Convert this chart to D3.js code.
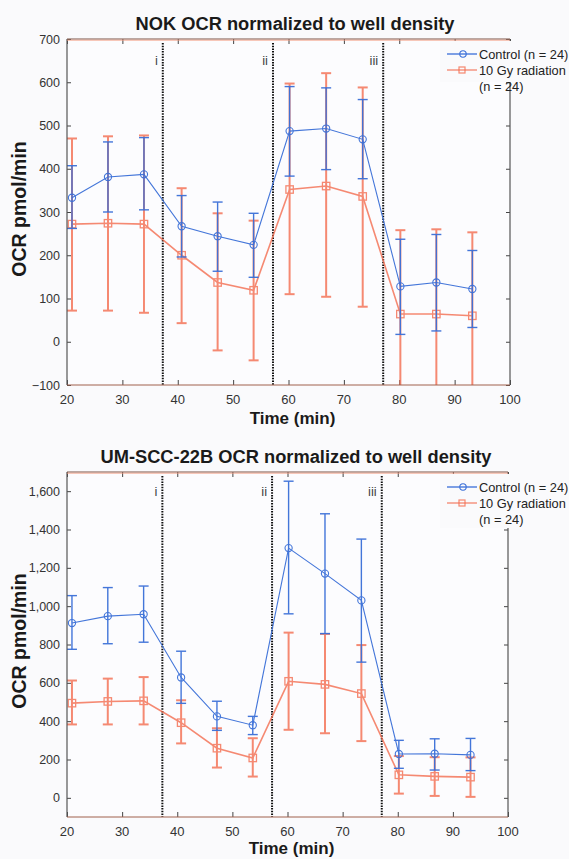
<!DOCTYPE html>
<html>
<head>
<meta charset="utf-8">
<script src="https://cdn.jsdelivr.net/npm/d3@7"></script>
<style>
  body { margin: 0; background: #fafafc; }
  svg { display: block; font-family: Arial, 'Liberation Sans', Helvetica, sans-serif; }
</style>
</head>
<body>
<div id="chart"></div>
<script>
// measurement times (min)
const times = [20.9, 27.4, 33.9, 40.7, 47.2, 53.7, 60.2, 66.8, 73.4, 80.2, 86.7, 93.2]
const injections = [37.3, 57.2, 77.1]
const injectionLabels = ['i', 'ii', 'iii']
const seriesNames = ['Control (n = 24)', '10 Gy radiation']

// NOK
const nokControl = [333, 381, 387, 267, 244, 224, 487, 493, 468, 128, 137, 122]
const nokControlLo = [262, 300, 305, 196, 163, 149, 383, 398, 377, 17, 25, 33]
const nokControlHi = [407, 462, 472, 338, 323, 297, 590, 587, 560, 237, 248, 211]
const nokRad = [272, 274, 272, 200, 137, 119, 352, 360, 336, 64, 64, 60]
const nokRadLo = [72, 72, 67, 43, -20, -43, 110, 104, 81, -130, -132, -133]
const nokRadHi = [470, 475, 477, 355, 297, 280, 597, 621, 588, 258, 260, 253]

// UM-SCC-22B
const umControl = [912, 948, 958, 628, 425, 379, 1303, 1170, 1030, 229, 230, 224]
const umControlLo = [775, 804, 812, 493, 352, 330, 960, 857, 708, 154, 145, 142]
const umControlHi = [1055, 1097, 1105, 765, 504, 425, 1652, 1482, 1350, 300, 308, 310]
const umRad = [494, 503, 506, 392, 259, 208, 608, 592, 544, 120, 112, 108]
const umRadLo = [383, 383, 383, 284, 158, 111, 355, 337, 296, 22, 10, 5]
const umRadHi = [612, 622, 630, 509, 363, 311, 862, 855, 797, 218, 212, 211]

const nokTicks = [-100, 0, 100, 200, 300, 400, 500, 600, 700]
const umTicks = [0, 200, 400, 600, 800, 1000, 1200, 1400, 1600]
const xTicks = [20, 30, 40, 50, 60, 70, 80, 90, 100]

const blue = '#3a6fd8'
const orange = '#f46a4c'

const W = 569, H = 859
const svg = d3.select('#chart').append('svg').attr('width', W).attr('height', H)

function drawChart(cfg) {
  const x = d3.scaleLinear().domain([20, 100]).range([67, cfg.right])
  const y = d3.scaleLinear().domain(cfg.yDomain).range([cfg.bottom, cfg.top])
  const g = svg.append('g')
  const clipId = 'clip' + cfg.id

  g.append('clipPath').attr('id', clipId)
    .append('rect')
    .attr('x', x(20)).attr('y', y.range()[1])
    .attr('width', x(100) - x(20)).attr('height', y.range()[0] - y.range()[1])

  g.append('rect')
    .attr('x', x(20)).attr('y', cfg.top)
    .attr('width', x(100) - x(20)).attr('height', cfg.bottom - cfg.top)
    .attr('fill', '#fcfcfe')

  // title
  g.append('text')
    .attr('x', cfg.titleX).attr('y', cfg.titleY)
    .attr('text-anchor', 'middle')
    .style('font-size', '18.3px').style('font-weight', 'bold').style('fill', '#1a1a1a')
    .text(cfg.title)

  // axes
  const fmt = d => (d < 0 ? '\u2212' + Math.abs(d) : d3.format(',')(d))
  const left = g.append('g').attr('transform', `translate(${x(20)},0)`)
    .call(d3.axisRight(y).tickValues(cfg.yTicks).tickSize(4).tickFormat(''))
  const right = g.append('g').attr('transform', `translate(${x(100)},0)`)
    .call(d3.axisLeft(y).tickValues(cfg.yTicks).tickSize(4).tickFormat(''))
  const bottom = g.append('g').attr('transform', `translate(0,${cfg.bottom})`)
    .call(d3.axisTop(x).tickValues(xTicks).tickSize(5).tickFormat(''))
  const top = g.append('g').attr('transform', `translate(0,${cfg.top})`)
    .call(d3.axisBottom(x).tickValues(xTicks).tickSize(5).tickFormat(''))
  ;[left, right, bottom, top].forEach(a => {
    a.select('.domain').remove()
    a.selectAll('line').attr('stroke', '#444')
  })

  g.selectAll('.ylab')
    .data(cfg.yTicks)
    .join('text')
    .attr('x', x(20) - 7).attr('y', d => y(d) + 4.5)
    .attr('text-anchor', 'end')
    .style('font-size', '12.5px').style('fill', '#333')
    .text(fmt)

  g.selectAll('.xlab')
    .data(xTicks)
    .join('text')
    .attr('x', d => x(d)).attr('y', cfg.bottom + 19)
    .attr('text-anchor', 'middle')
    .style('font-size', '13px').style('fill', '#333')
    .text(d => d)

  g.append('text')
    .attr('x', (x(20) + x(100)) / 2 + 4).attr('y', cfg.bottom + cfg.xLabelDy)
    .attr('text-anchor', 'middle')
    .style('font-size', '17px').style('font-weight', 'bold').style('fill', '#1a1a1a')
    .text('Time (min)')

  g.append('text')
    .attr('transform', `translate(26,${cfg.yLabelY}) rotate(-90)`)
    .attr('text-anchor', 'middle')
    .style('font-size', '19.5px').style('font-weight', 'bold').style('fill', '#1a1a1a')
    .text('OCR pmol/min')

  // injection lines
  g.selectAll('.inj')
    .data(injections)
    .join('line')
    .attr('x1', d => x(d)).attr('x2', d => x(d))
    .attr('y1', cfg.top + 4).attr('y2', cfg.bottom)
    .attr('stroke', '#111').attr('stroke-width', 2).attr('stroke-dasharray', '1.5,1.2')

  g.selectAll('.injlab')
    .data(injections)
    .join('text')
    .attr('x', d => x(d) - 5).attr('y', cfg.top + cfg.injY)
    .attr('text-anchor', 'end')
    .style('font-size', '13px').style('fill', '#444')
    .text((d, i) => injectionLabels[i])

  const plot = g.append('g').attr('clip-path', `url(#${clipId})`)

  function series(mean, lo, hi, color, marker, lineW, errW, opacity) {
    const s = plot.append('g').attr('opacity', opacity)
    const pts = times.map((t, i) => ({ t, m: mean[i], lo: lo[i], hi: hi[i] }))
    s.selectAll('.err')
      .data(pts)
      .join('line')
      .attr('x1', d => x(d.t)).attr('x2', d => x(d.t))
      .attr('y1', d => y(d.lo)).attr('y2', d => y(d.hi))
      .attr('stroke', color).attr('stroke-width', errW)
    s.selectAll('.caphi')
      .data(pts)
      .join('line')
      .attr('x1', d => x(d.t) - 5).attr('x2', d => x(d.t) + 5)
      .attr('y1', d => y(d.hi)).attr('y2', d => y(d.hi))
      .attr('stroke', color).attr('stroke-width', errW)
    s.selectAll('.caplo')
      .data(pts)
      .join('line')
      .attr('x1', d => x(d.t) - 5).attr('x2', d => x(d.t) + 5)
      .attr('y1', d => y(d.lo)).attr('y2', d => y(d.lo))
      .attr('stroke', color).attr('stroke-width', errW)
    s.append('path')
      .datum(pts)
      .attr('d', d3.line().x(d => x(d.t)).y(d => y(d.m)))
      .attr('fill', 'none').attr('stroke', color).attr('stroke-width', lineW)
    if (marker === 'circle') {
      s.selectAll('.mk')
        .data(pts)
        .join('circle')
        .attr('cx', d => x(d.t)).attr('cy', d => y(d.m)).attr('r', 3.6)
        .attr('fill', 'none').attr('stroke', color).attr('stroke-width', 1.1)
    } else {
      s.selectAll('.mk')
        .data(pts)
        .join('rect')
        .attr('x', d => x(d.t) - 3.7).attr('y', d => y(d.m) - 3.7)
        .attr('width', 7.4).attr('height', 7.4)
        .attr('fill', 'none').attr('stroke', color).attr('stroke-width', 1.3)
    }
  }

  series(cfg.rad, cfg.radLo, cfg.radHi, orange, 'square', 1.6, 2, 0.78)
  series(cfg.ctrl, cfg.ctrlLo, cfg.ctrlHi, blue, 'circle', 1.1, 1.4, 0.95)

  // frame
  g.append('line').attr('x1', x(20)).attr('x2', x(20)).attr('y1', cfg.top).attr('y2', cfg.bottom)
    .attr('stroke', '#555').attr('stroke-width', 1.2)
  g.append('line').attr('x1', x(100)).attr('x2', x(100)).attr('y1', cfg.top).attr('y2', cfg.bottom)
    .attr('stroke', '#555').attr('stroke-width', 1.2)
  g.append('line').attr('x1', x(20)).attr('x2', x(100)).attr('y1', cfg.top).attr('y2', cfg.top)
    .attr('stroke', '#7a5548').attr('stroke-width', 1.2)
  g.append('line').attr('x1', x(20)).attr('x2', x(100)).attr('y1', cfg.top + 1.2).attr('y2', cfg.top + 1.2)
    .attr('stroke', '#f29a80').attr('stroke-width', 0.8)
  g.append('line').attr('x1', x(20)).attr('x2', x(100)).attr('y1', cfg.bottom).attr('y2', cfg.bottom)
    .attr('stroke', '#a0604c').attr('stroke-width', 1.2)

  // legend
  const lg = g.append('g')
  lg.append('rect')
    .attr('x', 440).attr('y', cfg.top + 2)
    .attr('width', W - 440).attr('height', cfg.legendH)
    .attr('fill', '#fafafc')
  const rows = [
    { name: seriesNames[0], color: blue, marker: 'circle', op: 1 },
    { name: seriesNames[1], color: orange, marker: 'square', op: 0.8 }
  ]
  rows.forEach((r, i) => {
    const ry = cfg.top + 15 + i * 16
    const row = lg.append('g')
    row.append('line').attr('x1', 447).attr('x2', 477).attr('y1', ry).attr('y2', ry)
      .attr('stroke', r.color).attr('stroke-width', 1.3).attr('opacity', r.op)
    if (r.marker === 'circle') {
      row.append('circle').attr('cx', 463).attr('cy', ry).attr('r', 3.2)
        .attr('fill', 'none').attr('stroke', r.color).attr('stroke-width', 1.1)
    } else {
      row.append('rect').attr('x', 459).attr('y', ry - 3).attr('width', 6).attr('height', 6)
        .attr('fill', 'none').attr('stroke', r.color).attr('stroke-width', 1.2).attr('opacity', r.op)
    }
    row.append('text').attr('x', 479).attr('y', ry + 4.5)
      .style('font-size', '12.8px').style('fill', '#222')
      .text(r.name)
  })
  lg.append('text').attr('x', 479).attr('y', cfg.top + 47 + 4.5)
    .style('font-size', '12.8px').style('fill', '#222')
    .text('(n = 24)')
}

drawChart({
  id: 'nok',
  title: 'NOK OCR normalized to well density',
  titleX: 295, titleY: 30,
  top: 39, bottom: 385, right: 510,
  yDomain: [-100, 700], yTicks: nokTicks,
  yLabelY: 209, injY: 26, legendH: 41, xLabelDy: 39,
  ctrl: nokControl, ctrlLo: nokControlLo, ctrlHi: nokControlHi,
  rad: nokRad, radLo: nokRadLo, radHi: nokRadHi
})

drawChart({
  id: 'um',
  title: 'UM-SCC-22B OCR normalized to well density',
  titleX: 296, titleY: 463,
  top: 472, bottom: 817, right: 508,
  yDomain: [-100, 1700], yTicks: umTicks,
  yLabelY: 641, injY: 24, legendH: 54, xLabelDy: 37,
  ctrl: umControl, ctrlLo: umControlLo, ctrlHi: umControlHi,
  rad: umRad, radLo: umRadLo, radHi: umRadHi
})
</script>
</body>
</html>
